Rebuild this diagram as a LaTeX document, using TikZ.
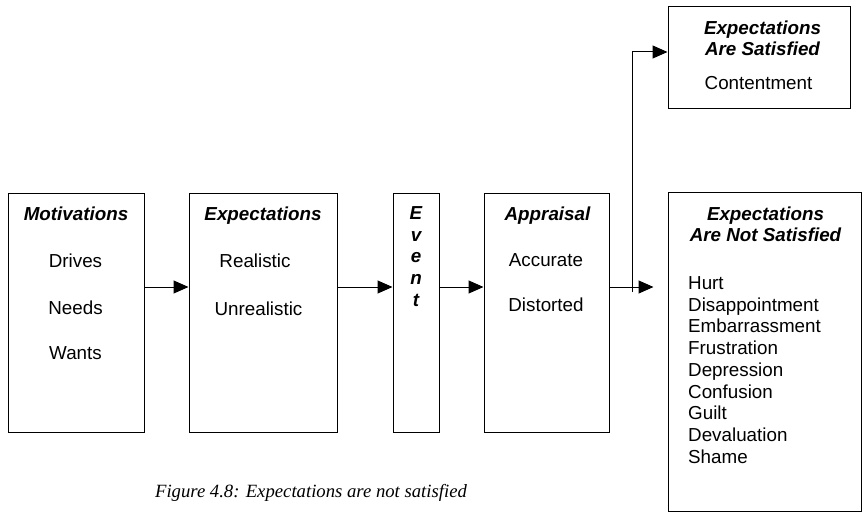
\documentclass[tikz,border=0pt]{standalone}
\usepackage{fontspec}
\setmainfont{Liberation Sans}
\newfontfamily\capfont{Liberation Serif}
\usetikzlibrary{positioning,arrows.meta}

\begin{document}
\begin{tikzpicture}[
    x=1pt,y=-1pt,
    every node/.style={font=\fontsize{18.8}{21.75}\selectfont,inner sep=0pt},
    box/.style={rectangle,draw,line width=1pt},
    hdr/.style={font=\fontsize{18.8}{21.75}\selectfont\bfseries\itshape,
                align=center,anchor=north},
    item/.style={anchor=base},
    arrow/.style={-{Triangle[length=15pt,width=13pt]},line width=1pt},
]
    \useasboundingbox (0,0) rectangle (862,513);

    % boxes
    \node[box,minimum width=136pt,minimum height=238pt] (mot)    at (76,313)    {};
    \node[box,minimum width=148pt,minimum height=238pt] (expt)   at (263,313)   {};
    \node[box,minimum width=46pt, minimum height=238pt] (event)  at (416,313)   {};
    \node[box,minimum width=125pt,minimum height=238pt] (appr)   at (546.5,313) {};
    \node[box,minimum width=182pt,minimum height=102pt] (sat)    at (759,58)    {};
    \node[box,minimum width=193pt,minimum height=318pt] (notsat) at (764.5,352) {};

    % texts
    \node[hdr] (motT) at (76,206.3) {Motivations};
    \node[item] (drives) at (75.5,267.7) {Drives};
    \node[item] (needs)  at (75.5,314.7) {Needs};
    \node[item] (wants)  at (75.5,359.7) {Wants};

    \node[hdr] (exptT) at (263,206.3) {Expectations};
    \node[item] (real)   at (255,267.7)   {Realistic};
    \node[item] (unreal) at (258.5,315.7) {Unrealistic};

    \node[hdr] (eventT) at (416,206.3) {E\\v\\e\\n\\t};

    \node[hdr] (apprT) at (547.5,206.3) {Appraisal};
    \node[item] (accur) at (546,266.7) {Accurate};
    \node[item] (dist)  at (546,311.7) {Distorted};

    \node[hdr] (satT) at (762.5,20.3) {Expectations\\Are Satisfied};
    \node[item] (cont) at (758.5,89.7) {Contentment};

    \node[hdr] (notsatT) at (765.5,206.3) {Expectations\\Are Not Satisfied};
    \node[anchor=north west,align=left] (feel) at (688,276.3)
        {Hurt\\Disappointment\\Embarrassment\\Frustration\\Depression\\Confusion\\Guilt\\Devaluation\\Shame};

    \node[anchor=base,font=\capfont\itshape\fontsize{18.7}{21}\selectfont] (cap) at (311,497)
        {Figure 4.8: Expectations are not satisfied};

    % connectors
    \coordinate (row)  at (0,287);
    \coordinate (fork) at (632,292);
    \draw[arrow] (mot.east|-row)   -- (expt.west|-row);
    \draw[arrow] (expt.east|-row)  -- (event.west|-row);
    \draw[arrow] (event.east|-row) -- (appr.west|-row);
    \draw[arrow,shorten >=14pt] (appr.east|-row) -- (notsat.west|-row);
    \draw[arrow] (fork) |- ([yshift=6pt]sat.west);
\end{tikzpicture}
\end{document}
